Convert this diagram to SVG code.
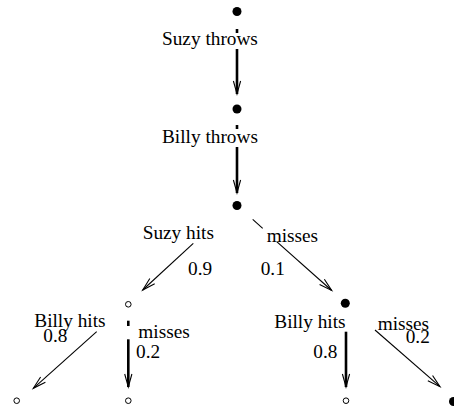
<svg xmlns="http://www.w3.org/2000/svg" width="454" height="413" viewBox="0 0 454 413">
<style>
text{font-family:"Liberation Serif","Times New Roman",serif;font-size:19.3px;fill:#000}
.thick{stroke:#000;stroke-width:2.6;fill:none}
.thin{stroke:#000;stroke-width:1.1;fill:none}
.full{fill:#000}
.open{fill:#fff;stroke:#000;stroke-width:1}
</style>
<defs>
<marker id="ah" markerUnits="userSpaceOnUse" markerWidth="20" markerHeight="12" viewBox="-14 -6 16 12" refX="0" refY="0" orient="auto" overflow="visible">
<path d="M-13,-3.6 L0,0 L-13,3.6" fill="none" stroke="#000" stroke-width="1.1"/>
</marker>
</defs>
<rect width="454" height="413" fill="#fff"/>
<g id="connectors">
<line class="thick" x1="237" y1="29" x2="237" y2="33"/>
<line class="thick" x1="237" y1="49" x2="237" y2="94" marker-end="url(#ah)"/>
<line class="thick" x1="237" y1="125" x2="237" y2="129"/>
<line class="thick" x1="237" y1="147" x2="237" y2="193" marker-end="url(#ah)"/>
<line class="thin" x1="193.3" y1="243.3" x2="142.7" y2="290" marker-end="url(#ah)"/>
<line class="thin" x1="252.7" y1="219.3" x2="262.7" y2="228.3"/>
<line class="thin" x1="276.7" y1="241.7" x2="331.7" y2="290.5" marker-end="url(#ah)"/>
<line class="thin" x1="96.7" y1="331.7" x2="33.3" y2="388.3" marker-end="url(#ah)"/>
<line class="thick" x1="128.3" y1="320.7" x2="128.3" y2="326"/>
<line class="thick" x1="128.3" y1="339.3" x2="128.3" y2="387" marker-end="url(#ah)"/>
<line class="thick" x1="346" y1="331.7" x2="346" y2="387" marker-end="url(#ah)"/>
<line class="thin" x1="375" y1="330" x2="440" y2="386.7" marker-end="url(#ah)"/>
</g>
<g id="labels">
<text x="162" y="45">Suzy throws</text>
<text x="162" y="142.7">Billy throws</text>
<text x="142.7" y="239.3">Suzy hits</text>
<text x="188" y="275">0.9</text>
<text x="266.7" y="241.7">misses</text>
<text x="260.7" y="275">0.1</text>
<text x="34.3" y="327.3">Billy hits</text>
<text x="43.3" y="341.7">0.8</text>
<text x="138.3" y="338.3">misses</text>
<text x="136" y="357.7">0.2</text>
<text x="274.3" y="328.3">Billy hits</text>
<text x="313.3" y="358.3">0.8</text>
<text x="377.7" y="330">misses</text>
<text x="405.7" y="343.3">0.2</text>
</g>
<g id="n1"><circle class="full" cx="237" cy="11.5" r="4.5"/></g>
<g id="n2"><circle class="full" cx="237" cy="109" r="4.5"/></g>
<g id="n3"><circle class="full" cx="237" cy="205.5" r="4.5"/></g>
<g id="n4"><circle class="open" cx="128.3" cy="304.3" r="2.8"/></g>
<g id="n5"><circle class="full" cx="345.3" cy="303.3" r="4.5"/></g>
<g id="n6"><circle class="open" cx="16.7" cy="400.7" r="2.8"/></g>
<g id="n7"><circle class="open" cx="128.3" cy="400.7" r="2.8"/></g>
<g id="n8"><circle class="open" cx="346" cy="400.7" r="2.8"/></g>
<g id="n9"><circle class="full" cx="453.5" cy="401.5" r="4.5"/></g>
</svg>
